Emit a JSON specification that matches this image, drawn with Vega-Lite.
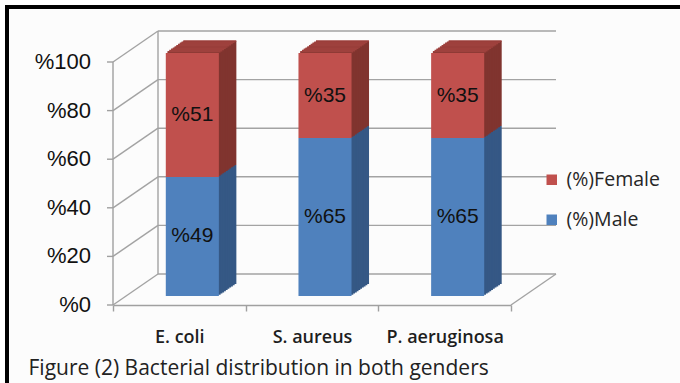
{
  "$schema": "https://vega.github.io/schema/vega-lite/v6.json",
  "width": 673,
  "height": 376,
  "autosize": "none",
  "padding": {"left": 7, "top": 7, "right": 0, "bottom": 0},
  "background": "#ffffff",
  "config": {
    "view": {"fill": "#fcfcfc", "stroke": "#000000", "strokeWidth": 4, "strokeDash": [673, 1049, 376], "strokeCap": "square"},
    "axis": {"grid": false}
  },
  "datasets": {
    "shares": [
      {"organism": "E. coli", "series": "(%)Male", "value": 49},
      {"organism": "E. coli", "series": "(%)Female", "value": 51},
      {"organism": "S. aureus", "series": "(%)Male", "value": 65},
      {"organism": "S. aureus", "series": "(%)Female", "value": 35},
      {"organism": "P. aeruginosa", "series": "(%)Male", "value": 65},
      {"organism": "P. aeruginosa", "series": "(%)Female", "value": 35}
    ],
    "levels": [{"v": 0}, {"v": 20}, {"v": 40}, {"v": 60}, {"v": 80}, {"v": 100}]
  },
  "resolve": {"scale": {"x": "independent"}},
  "layer": [
    {
      "encoding": {
        "x": {"datum": 0, "type": "quantitative", "scale": {"domain": [0, 3], "range": [106, 504]}, "axis": null}
      },
      "layer": [
        {
          "data": {"name": "levels"},
          "mark": {"type": "rule", "color": "#a3a3a3", "strokeWidth": 1.4, "xOffset": 45, "x2Offset": 45, "yOffset": -31},
          "encoding": {
            "x2": {"datum": 3},
            "y": {"field": "v", "type": "quantitative", "scale": {"domain": [0, 100], "range": [298, 55], "nice": false}, "axis": null}
          }
        },
        {
          "data": {"values": [{}]},
          "mark": {"type": "rule", "color": "#a3a3a3", "strokeWidth": 1.4, "xOffset": 45, "yOffset": -31, "y2Offset": -31},
          "encoding": {
            "y": {"datum": 0, "type": "quantitative", "axis": null},
            "y2": {"datum": 100}
          }
        },
        {
          "data": {"name": "levels"},
          "mark": {"type": "rule", "color": "#a3a3a3", "strokeWidth": 1.4, "x2Offset": 45, "y2Offset": -31},
          "encoding": {
            "x2": {"datum": 0},
            "y": {"field": "v", "type": "quantitative", "axis": null},
            "y2": {"field": "v"}
          }
        },
        {
          "data": {"values": [{}]},
          "mark": {"type": "rule", "color": "#a3a3a3", "strokeWidth": 1.4, "x2Offset": 45, "y2Offset": -31},
          "encoding": {
            "x": {"datum": 3, "type": "quantitative", "axis": null},
            "x2": {"datum": 3},
            "y": {"datum": 0, "type": "quantitative", "axis": null},
            "y2": {"datum": 0}
          }
        },
        {
          "data": {"values": [{}]},
          "mark": {"type": "rule", "color": "#a0a0a0", "strokeWidth": 1.4},
          "encoding": {
            "y": {"datum": 0, "type": "quantitative", "axis": null},
            "y2": {"datum": 100}
          }
        },
        {
          "data": {"name": "levels"},
          "mark": {"type": "rule", "color": "#a0a0a0", "strokeWidth": 1.4, "x2Offset": -6},
          "encoding": {
            "x2": {"datum": 0},
            "y": {"field": "v", "type": "quantitative", "axis": null},
            "y2": {"field": "v"}
          }
        },
        {
          "data": {"name": "levels"},
          "transform": [{"calculate": "'%' + datum.v", "as": "tick_label"}],
          "mark": {"type": "text", "font": "Liberation Sans", "fontSize": 22, "color": "#111111", "align": "right", "baseline": "middle", "xOffset": -22},
          "encoding": {
            "y": {"field": "v", "type": "quantitative", "axis": null},
            "text": {"field": "tick_label"}
          }
        }
      ]
    },
    {
      "data": {"name": "shares"},
      "encoding": {
        "x": {
          "field": "organism", "type": "nominal", "sort": null,
          "scale": {"type": "band", "range": [106, 504], "paddingInner": 0, "paddingOuter": 0},
          "axis": {
            "orient": "bottom", "offset": -78, "labelAngle": 0,
            "domainColor": "#a0a0a0", "domainWidth": 1.4,
            "tickColor": "#a0a0a0", "tickWidth": 1.4, "tickSize": 6, "tickBand": "extent",
            "labelFont": "Open Sans", "labelFontSize": 18, "labelFontWeight": 600, "labelColor": "#1e1e1e", "labelPadding": 17,
            "title": "Figure (2) Bacterial distribution in both genders",
            "titleX": 21, "titleY": 69, "titleAlign": "left", "titleBaseline": "alphabetic",
            "titleFont": "Open Sans", "titleFontSize": 21, "titleFontWeight": "normal", "titleColor": "#222222"
          }
        },
        "y": {"field": "value", "type": "quantitative", "stack": "zero", "axis": null},
        "order": {"field": "series", "sort": "descending"}
      },
      "layer": [
        {
          "encoding": {
            "fill": {"condition": {"test": "datum.series === '(%)Female'", "value": "#80342f"}, "value": "#355885"},
            "stroke": {"condition": {"test": "datum.series === '(%)Female'", "value": "#9e413d"}, "value": "transparent"}
          },
          "layer": [
            {"mark": {"type": "bar", "width": {"band": 0.4}, "strokeWidth": 1.6, "strokeDash": [53, 3000], "xOffset": 30.5, "x2Offset": 30.5, "yOffset": -21, "y2Offset": -21}},
            {"mark": {"type": "bar", "width": {"band": 0.4}, "strokeWidth": 1.6, "strokeDash": [53, 3000], "xOffset": 28.75, "x2Offset": 28.75, "yOffset": -19.8, "y2Offset": -19.8}},
            {"mark": {"type": "bar", "width": {"band": 0.4}, "strokeWidth": 1.6, "strokeDash": [53, 3000], "xOffset": 27, "x2Offset": 27, "yOffset": -18.6, "y2Offset": -18.6}},
            {"mark": {"type": "bar", "width": {"band": 0.4}, "strokeWidth": 1.6, "strokeDash": [53, 3000], "xOffset": 25.25, "x2Offset": 25.25, "yOffset": -17.4, "y2Offset": -17.4}},
            {"mark": {"type": "bar", "width": {"band": 0.4}, "strokeWidth": 1.6, "strokeDash": [53, 3000], "xOffset": 23.5, "x2Offset": 23.5, "yOffset": -16.2, "y2Offset": -16.2}},
            {"mark": {"type": "bar", "width": {"band": 0.4}, "strokeWidth": 1.6, "strokeDash": [53, 3000], "xOffset": 21.75, "x2Offset": 21.75, "yOffset": -15, "y2Offset": -15}},
            {"mark": {"type": "bar", "width": {"band": 0.4}, "strokeWidth": 1.6, "strokeDash": [53, 3000], "xOffset": 20, "x2Offset": 20, "yOffset": -13.8, "y2Offset": -13.8}},
            {"mark": {"type": "bar", "width": {"band": 0.4}, "strokeWidth": 1.6, "strokeDash": [53, 3000], "xOffset": 18.25, "x2Offset": 18.25, "yOffset": -12.6, "y2Offset": -12.6}},
            {"mark": {"type": "bar", "width": {"band": 0.4}, "strokeWidth": 1.6, "strokeDash": [53, 3000], "xOffset": 16.5, "x2Offset": 16.5, "yOffset": -11.4, "y2Offset": -11.4}},
            {"mark": {"type": "bar", "width": {"band": 0.4}, "strokeWidth": 1.6, "strokeDash": [53, 3000], "xOffset": 14.75, "x2Offset": 14.75, "yOffset": -10.2, "y2Offset": -10.2}}
          ]
        },
        {
          "mark": {"type": "bar", "width": {"band": 0.4}, "xOffset": 13, "x2Offset": 13, "yOffset": -9, "y2Offset": -9},
          "encoding": {
            "color": {
              "field": "series", "type": "nominal",
              "scale": {"domain": ["(%)Female", "(%)Male"], "range": ["#c0504d", "#4f81bd"]},
              "legend": {
                "orient": "none", "legendX": 535, "legendY": 163, "title": null, "padding": 0,
                "symbolType": "square", "symbolSize": 110, "symbolStrokeWidth": 0,
                "labelFont": "Open Sans", "labelFontSize": 19.5, "labelColor": "#262626",
                "labelOffset": 5, "rowPadding": 19
              }
            }
          }
        },
        {
          "transform": [{"calculate": "'%' + datum.value", "as": "label"}],
          "mark": {"type": "text", "font": "Liberation Sans", "fontSize": 21, "color": "#111111", "align": "center", "baseline": "middle", "xOffset": 13, "yOffset": -9},
          "encoding": {
            "y": {"field": "value", "type": "quantitative", "stack": "zero", "bandPosition": 0.5, "axis": null},
            "text": {"field": "label"}
          }
        }
      ]
    }
  ]
}
